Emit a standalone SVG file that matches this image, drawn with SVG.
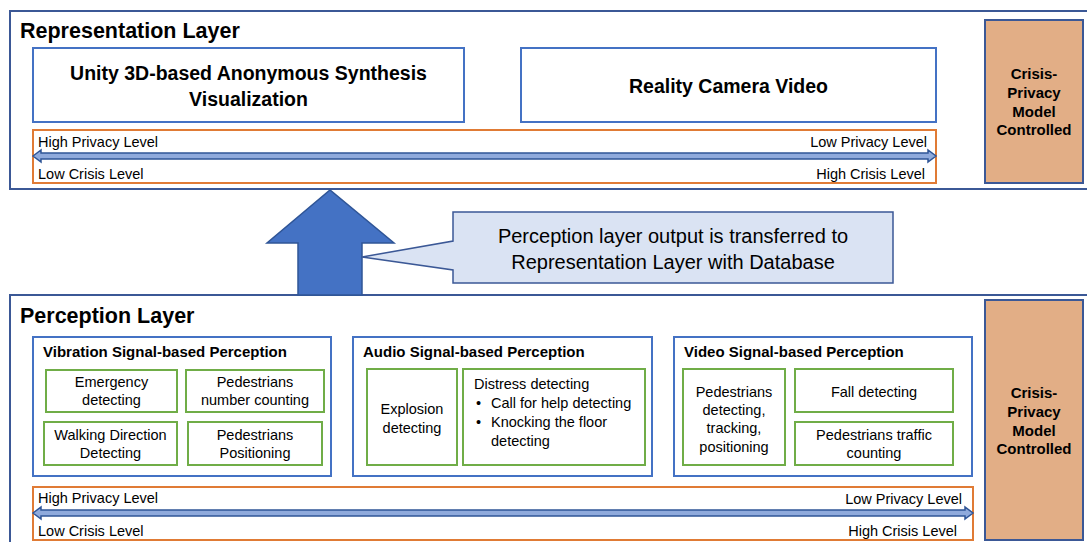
<svg xmlns="http://www.w3.org/2000/svg" width="1087" height="542" viewBox="0 0 1087 542">
  <style>
    text { font-family: "Liberation Sans", Arial, sans-serif; fill: #000; }
    .layer { fill: #fff; stroke: #3b5896; stroke-width: 2; }
    .title { font-size: 21.5px; font-weight: bold; }
    .panel { fill: #fff; stroke: #4472c4; stroke-width: 2; }
    .big { font-size: 19.5px; font-weight: bold; text-anchor: middle; }
    .scale { fill: #fff; stroke: #e07b35; stroke-width: 2; }
    .lvl { font-size: 14.5px; }
    .lvl-r { font-size: 14.5px; text-anchor: end; }
    .dbl { fill: #8faadc; stroke: #2f5597; stroke-width: 1.5; }
    .ctrl { fill: #e2ae86; stroke: #3b5896; stroke-width: 2; }
    .ctrl-t { font-size: 15px; font-weight: bold; text-anchor: middle; }
    .group { fill: #fff; stroke: #4472c4; stroke-width: 2; }
    .gtitle { font-size: 15px; font-weight: bold; }
    .item { fill: #fff; stroke: #70ad47; stroke-width: 2; }
    .it { font-size: 14.5px; text-anchor: middle; }
    .il { font-size: 14.5px; }
  </style>

  <!-- Representation layer -->
  <g id="representation-layer">
    <rect class="layer" x="10" y="11" width="1090" height="178"/>
    <text class="title" x="20" y="38">Representation Layer</text>
  </g>
  <g id="unity-visualization">
    <rect class="panel" x="33" y="48" width="431" height="74"/>
    <text class="big" x="248.5" y="80">Unity 3D-based Anonymous Synthesis</text>
    <text class="big" x="248.5" y="106">Visualization</text>
  </g>
  <g id="reality-video">
    <rect class="panel" x="521" y="48" width="415" height="74"/>
    <text class="big" x="728.5" y="93">Reality Camera Video</text>
  </g>
  <g id="rep-scale">
    <rect class="scale" x="33" y="130" width="903" height="53"/>
    <text class="lvl" x="38" y="147">High Privacy Level</text>
    <text class="lvl-r" x="927" y="147">Low Privacy Level</text>
    <polygon class="dbl" points="33,156 41,150 41,153 928,153 928,150 936,156 928,162 928,159 41,159 41,162"/>
    <text class="lvl" x="38" y="179">Low Crisis Level</text>
    <text class="lvl-r" x="925" y="179">High Crisis Level</text>
  </g>
  <g id="rep-control">
    <rect class="ctrl" x="985" y="20" width="98" height="163"/>
    <text class="ctrl-t" x="1034" y="79">Crisis-</text>
    <text class="ctrl-t" x="1034" y="98">Privacy</text>
    <text class="ctrl-t" x="1034" y="117">Model</text>
    <text class="ctrl-t" x="1034" y="135">Controlled</text>
  </g>

  <!-- Perception layer -->
  <g id="perception-layer">
    <rect class="layer" x="10" y="295" width="1090" height="260"/>
    <text class="title" x="20" y="323">Perception Layer</text>
  </g>

  <!-- Transfer between layers -->
  <g id="connectors">
    <polygon points="298,295 298,243 267,243 330,190 394,243 362,243 362,295" fill="#4472c4" stroke="#2f5597" stroke-width="1.5"/>
  </g>
  <g id="transfer-note">
    <path d="M453,212 H893 V283 H453 V270 L362,257 L453,241 Z" fill="#dae3f3" stroke="#3b5896" stroke-width="1.5"/>
    <text x="673" y="243" font-size="20px" text-anchor="middle">Perception layer output is transferred to</text>
    <text x="673" y="269" font-size="20px" text-anchor="middle">Representation Layer with Database</text>
  </g>

  <!-- Vibration group -->
  <g id="vibration">
    <rect class="group" x="33" y="337" width="298" height="139"/>
    <text class="gtitle" x="43" y="357">Vibration Signal-based Perception</text>
  </g>
  <g id="emergency">
    <rect class="item" x="46" y="370" width="131" height="42"/>
    <text class="it" x="111.5" y="387">Emergency</text>
    <text class="it" x="111.5" y="405">detecting</text>
  </g>
  <g id="ped-count">
    <rect class="item" x="186" y="370" width="138" height="42"/>
    <text class="it" x="255" y="387">Pedestrians</text>
    <text class="it" x="255" y="405">number counting</text>
  </g>
  <g id="walking-dir">
    <rect class="item" x="44" y="422" width="133" height="43"/>
    <text class="it" x="110.5" y="440">Walking Direction</text>
    <text class="it" x="110.5" y="458">Detecting</text>
  </g>
  <g id="ped-position">
    <rect class="item" x="188" y="422" width="134" height="43"/>
    <text class="it" x="255" y="440">Pedestrians</text>
    <text class="it" x="255" y="458">Positioning</text>
  </g>

  <!-- Audio group -->
  <g id="audio">
    <rect class="group" x="353" y="337" width="299" height="139"/>
    <text class="gtitle" x="363" y="357">Audio Signal-based Perception</text>
  </g>
  <g id="explosion">
    <rect class="item" x="367" y="369" width="90" height="96"/>
    <text class="it" x="412" y="414">Explosion</text>
    <text class="it" x="412" y="433">detecting</text>
  </g>
  <g id="distress">
    <rect class="item" x="463" y="369" width="182" height="96"/>
    <text class="il" x="474" y="389">Distress detecting</text>
    <text class="il" x="476" y="408">•</text>
    <text class="il" x="491" y="408">Call for help detecting</text>
    <text class="il" x="476" y="427">•</text>
    <text class="il" x="491" y="427">Knocking the floor</text>
    <text class="il" x="491" y="446">detecting</text>
  </g>

  <!-- Video group -->
  <g id="video">
    <rect class="group" x="674" y="337" width="298" height="139"/>
    <text class="gtitle" x="684" y="357">Video Signal-based Perception</text>
  </g>
  <g id="ped-track">
    <rect class="item" x="683" y="369" width="102" height="96"/>
    <text class="it" x="734" y="397">Pedestrians</text>
    <text class="it" x="734" y="415">detecting,</text>
    <text class="it" x="734" y="433">tracking,</text>
    <text class="it" x="734" y="452">positioning</text>
  </g>
  <g id="fall">
    <rect class="item" x="795" y="369" width="158" height="43"/>
    <text class="it" x="874" y="397">Fall detecting</text>
  </g>
  <g id="traffic">
    <rect class="item" x="795" y="422" width="158" height="43"/>
    <text class="it" x="874" y="440">Pedestrians traffic</text>
    <text class="it" x="874" y="458">counting</text>
  </g>

  <g id="per-scale">
    <rect class="scale" x="33" y="487" width="940" height="53"/>
    <text class="lvl" x="38" y="503">High Privacy Level</text>
    <text class="lvl-r" x="962" y="504">Low Privacy Level</text>
    <polygon class="dbl" points="33,513 41,507 41,510 965,510 965,507 973,513 965,519 965,516 41,516 41,519"/>
    <text class="lvl" x="38" y="536">Low Crisis Level</text>
    <text class="lvl-r" x="957" y="536">High Crisis Level</text>
  </g>
  <g id="per-control">
    <rect class="ctrl" x="985" y="300" width="98" height="240"/>
    <text class="ctrl-t" x="1034" y="398">Crisis-</text>
    <text class="ctrl-t" x="1034" y="417">Privacy</text>
    <text class="ctrl-t" x="1034" y="436">Model</text>
    <text class="ctrl-t" x="1034" y="454">Controlled</text>
  </g>
</svg>
